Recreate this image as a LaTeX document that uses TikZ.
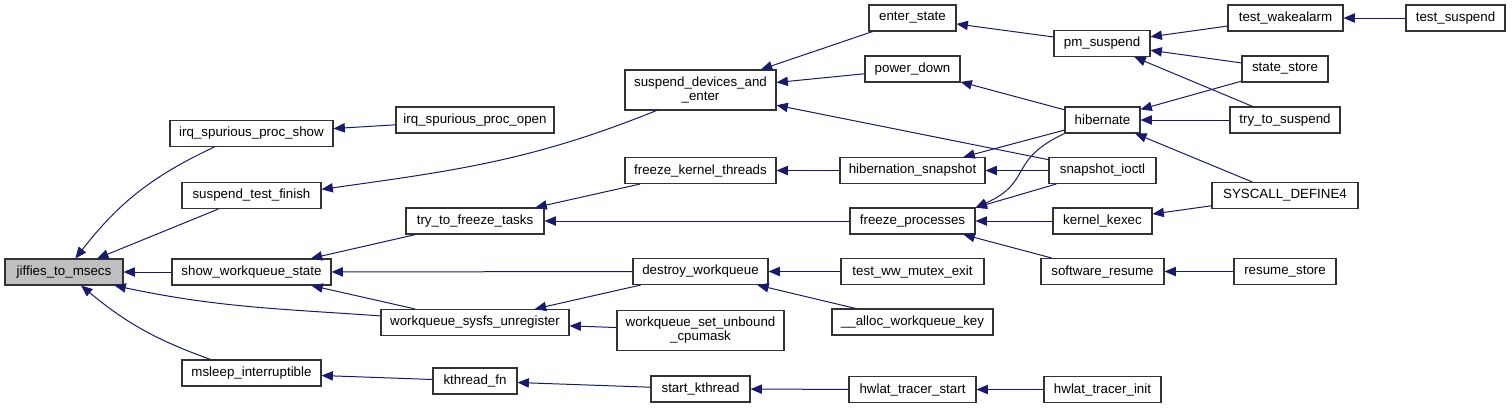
\documentclass[tikz,border=0pt]{standalone}
\usepackage{fontspec}
\setmainfont{Liberation Sans}
\usetikzlibrary{arrows.meta}
\definecolor{EdgeBlue}{rgb}{0.1, 0.1, 0.44}
\definecolor{FocusGrey}{rgb}{0.75, 0.75, 0.75}

\begin{document}
\begin{tikzpicture}[
    x=0.75pt, y=-0.75pt,
    font=\fontsize{10}{10.5}\selectfont,
    fn/.style={draw=black!80, line width=0.8pt, fill=white, inner sep=0pt,
        align=center, minimum height=19.5pt, minimum width=#1*0.75pt},
    twoline/.style={minimum height=30pt},
    call/.style={-{Triangle[length=8.5pt, width=7pt]}, line width=0.75pt, EdgeBlue},
]
\useasboundingbox (0,0) rectangle (1512,408);

% column 0 and 1
\node[fn=118, fill=FocusGrey] (jiffies) at (64,272) {jiffies\_to\_msecs};
\node[fn=163] (irqshow) at (251.5,133.5) {irq\_spurious\_proc\_show};
\node[fn=139] (stfinish) at (251.5,195.5) {suspend\_test\_finish};
\node[fn=159] (showwq) at (251.5,272) {show\_workqueue\_state};
\node[fn=139] (msleep) at (251.5,373) {msleep\_interruptible};

% column 2
\node[fn=158] (irqopen) at (475,120) {irq\_spurious\_proc\_open};
\node[fn=138] (ttft) at (475,221) {try\_to\_freeze\_tasks};
\node[fn=188] (wsu) at (475,322.5) {workqueue\_sysfs\_unregister};
\node[fn=84] (kthreadfn) at (475,381) {kthread\_fn};

% column 3
\node[fn=151, twoline] (sdae) at (700.5,90) {suspend\_devices\_and\\\_enter};
\node[fn=151] (fkt) at (700.5,170.5) {freeze\_kernel\_threads};
\node[fn=135] (destroywq) at (700.5,271.5) {destroy\_workqueue};
\node[fn=167, twoline] (wsucpu) at (700.5,330.5) {workqueue\_set\_unbound\\\_cpumask};
\node[fn=99] (startkt) at (700.5,389) {start\_kthread};

% column 4
\node[fn=87] (enterst) at (912.5,18) {enter\_state};
\node[fn=95] (powerdown) at (912.5,69) {power\_down};
\node[fn=145] (hibsnap) at (912.5,170.5) {hibernation\_snapshot};
\node[fn=125] (freezeproc) at (912.5,221) {freeze\_processes};
\node[fn=143] (testww) at (912.5,271.5) {test\_ww\_mutex\_exit};
\node[fn=161] (allocwq) at (912.5,322) {\_\_alloc\_workqueue\_key};
\node[fn=127] (hwstart) at (912.5,389.5) {hwlat\_tracer\_start};

% column 5
\node[fn=96] (pmsusp) at (1102,43.5) {pm\_suspend};
\node[fn=75] (hibernate) at (1102.5,120) {hibernate};
\node[fn=107] (snapioctl) at (1102.5,170.5) {snapshot\_ioctl};
\node[fn=99] (kexec) at (1102.5,221) {kernel\_kexec};
\node[fn=123] (swresume) at (1102.5,271.5) {software\_resume};
\node[fn=117] (hwinit) at (1102.5,389.5) {hwlat\_tracer\_init};

% column 6 and 7
\node[fn=115] (testwake) at (1285.5,18) {test\_wakealarm};
\node[fn=86] (statestore) at (1285,69) {state\_store};
\node[fn=110] (trysusp) at (1285,120) {try\_to\_suspend};
\node[fn=146] (syscall4) at (1285,195.5) {SYSCALL\_DEFINE4};
\node[fn=102] (resumestore) at (1285,271.5) {resume\_store};
\node[fn=99] (testsusp) at (1455.5,18) {test\_suspend};

% callers -> callees
\foreach \a/\b in {stfinish/jiffies, showwq/jiffies, irqopen/irqshow,
    ttft/showwq, destroywq/showwq, wsu/showwq, kthreadfn/msleep,
    enterst/sdae, powerdown/sdae, snapioctl/sdae, fkt/ttft, freezeproc/ttft,
    destroywq/wsu, wsucpu/wsu, startkt/kthreadfn, pmsusp/enterst,
    hibernate/powerdown, hibsnap/fkt, hibernate/hibsnap, snapioctl/hibsnap,
    kexec/freezeproc, swresume/freezeproc, testww/destroywq, allocwq/destroywq,
    hwstart/startkt, testwake/pmsusp, statestore/pmsusp, trysusp/pmsusp,
    statestore/hibernate, trysusp/hibernate, syscall4/hibernate, syscall4/kexec,
    resumestore/swresume, hwinit/hwstart, testsusp/testwake}
    \draw[call] (\a) -- (\b);

% curved ones
\draw[call] (irqshow.200) to[out=205, in=52] (jiffies.50);
\draw[call] (wsu.176) to[out=176, in=-12] (jiffies.-15);
\draw[call] (msleep) to[bend left=10] (jiffies);
\draw[call] (sdae.205) to[out=202, in=8] (stfinish.5);
\draw[call] (hibernate.south west) to[out=205, in=24, looseness=1.4] (freezeproc.12);
\draw[call] (snapioctl) -- (freezeproc.12);

\end{tikzpicture}
\end{document}
